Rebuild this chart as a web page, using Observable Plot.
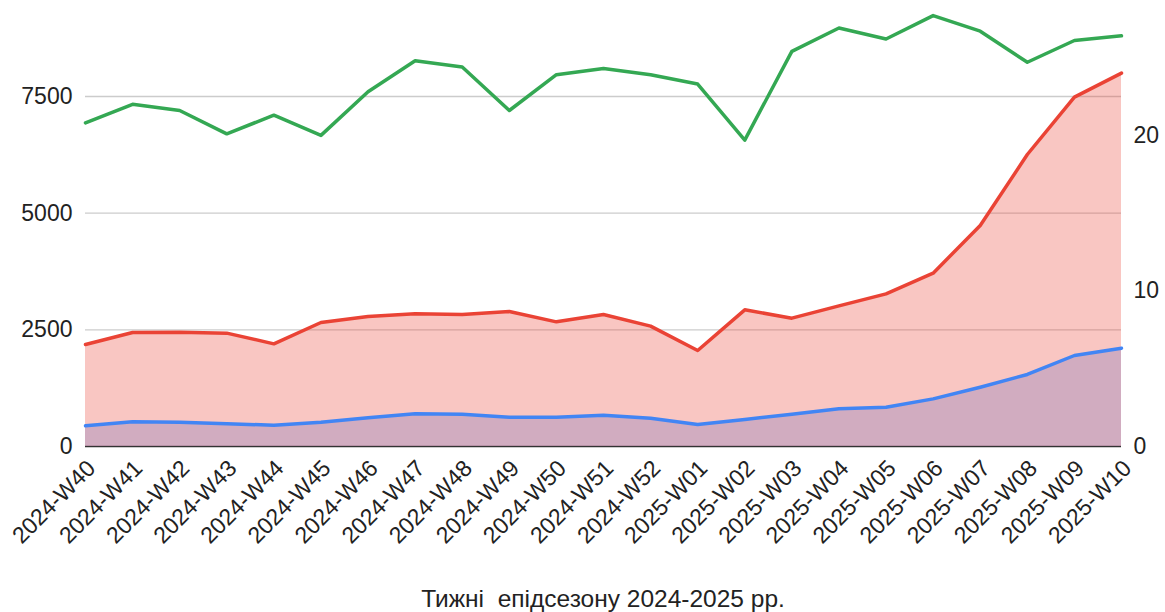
<!DOCTYPE html>
<html>
<head>
<meta charset="utf-8">
<script src="https://cdn.jsdelivr.net/npm/d3@7"></script>
<script src="https://cdn.jsdelivr.net/npm/@observablehq/plot@0.6"></script>
<style>
  html, body { margin: 0; padding: 0; background: #fff; }
  #chart svg { display: block; }
  #title { margin-left: 85px; width: 1036px; text-align: center; font-family: "Liberation Sans", Arial, sans-serif; font-size: 24.5px; line-height: 28px; color: #222; }
</style>
</head>
<body>
<div id="chart"></div>
<div id="title">Тижні&nbsp; епідсезону 2024-2025 рр.</div>
<script>
const weeks = ["2024-W40","2024-W41","2024-W42","2024-W43","2024-W44","2024-W45","2024-W46","2024-W47","2024-W48","2024-W49","2024-W50","2024-W51","2024-W52","2025-W01","2025-W02","2025-W03","2025-W04","2025-W05","2025-W06","2025-W07","2025-W08","2025-W09","2025-W10"];
const redSeries = [2186,2443,2450,2429,2200,2657,2786,2843,2829,2893,2671,2829,2579,2057,2929,2750,3014,3271,3714,4736,6257,7486,8000];
const blueSeries = [443,529,521,486,457,521,614,700,693,629,629,671,607,471,579,693,807,843,1021,1271,1543,1950,2107];
const greenSeries = [20.8,22.0,21.6,20.1,21.3,20.0,22.8,24.8,24.4,21.6,23.9,24.3,23.9,23.3,19.7,25.4,26.9,26.2,27.7,26.7,24.7,26.1,26.4];
const leftTicks = [0,2500,5000,7500];
const rightTicks = [0,10,20];

const k = 1000/3; // right-axis unit in left-axis units
const data = weeks.map((w,i)=>({i, week:w, red:redSeries[i], blue:blueSeries[i], green:greenSeries[i]}));

const chart = Plot.plot({
  width: 1165, height: 585,
  marginLeft: 85, marginRight: 44, marginTop: 2.667, marginBottom: 139,
  x: {type: "linear", domain: [0, weeks.length - 1], axis: null},
  y: {domain: [0, 9500], axis: null},
  style: {fontFamily: "'Liberation Sans', Arial, sans-serif", fontSize: "23px", color: "#222", background: "#fff"},
  marks: [
    Plot.gridY(leftTicks.slice(1), {stroke: "#cccccc", strokeOpacity: 1, strokeWidth: 1.3}),
    Plot.ruleY([0], {stroke: "#333", strokeWidth: 1.5}),
    Plot.areaY(data, {x: "i", y: "blue", fill: "#4285F4", fillOpacity: 0.3}),
    Plot.areaY(data, {x: "i", y: "red", fill: "#EA4335", fillOpacity: 0.3}),
    Plot.lineY(data, {x: "i", y: "blue", stroke: "#4285F4", strokeWidth: 3.5, strokeLinejoin: "round"}),
    Plot.lineY(data, {x: "i", y: "red", stroke: "#EA4335", strokeWidth: 3.5, strokeLinejoin: "round"}),
    Plot.lineY(data, {x: "i", y: d => d.green * k, stroke: "#34A853", strokeWidth: 3.5, strokeLinejoin: "round"}),
    Plot.axisY({anchor: "left", ticks: leftTicks, tickSize: 0, tickPadding: 13, tickFormat: d => String(d), label: null}),
    Plot.axisY({anchor: "right", ticks: rightTicks.map(v => v * k), tickSize: 0, tickPadding: 12, tickFormat: d => String(Math.round(d / k)), label: null}),
    Plot.text(data, {x: "i", y: () => 0, text: "week", rotate: -45, textAnchor: "end", lineAnchor: "middle", dx: 6, dy: 18, fontSize: 23, fill: "#222"})
  ]
});
document.getElementById("chart").appendChild(chart);
</script>
</body>
</html>
